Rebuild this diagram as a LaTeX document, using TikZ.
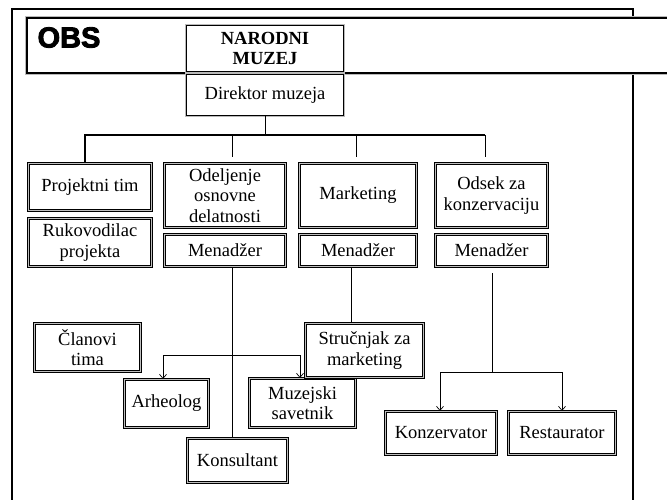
\documentclass[tikz,border=0pt]{standalone}
\usepackage{fontspec}
\setmainfont{Liberation Serif}
\newfontfamily\logofont[BoldFeatures={FakeBold=3}]{Liberation Sans}
\usetikzlibrary{arrows.meta,calc}

% box given by its corners: name, x1, y1, x2, y2, text
\newcommand{\orgunit}[7][orgbox]{%
  \node[#1, minimum width={(#5-#3-3)*1pt}, minimum height={(#6-#4-3)*1pt}]
    (#2) at ({(#3+#5)/2},{(#4+#6)/2}) {#7};}

\begin{document}
\begin{tikzpicture}[x=1pt,y=-1pt,
  every node/.style={font=\fontsize{18.5}{20.5}\selectfont},
  orgbox/.style={rectangle, draw=black, line width=1.2pt, double=gray!50,
    double distance=1.1pt, fill=white, align=center, inner sep=0pt},
  headbox/.style={rectangle, draw=black, line width=1.6pt,
    preaction={draw=gray!55, line width=3.4pt}, fill=white, align=center, inner sep=0pt},
  frameline/.style={draw=black, line width=1.2pt, preaction={draw=gray!55, line width=2.8pt}},
  bandline/.style={draw=black, line width=1.6pt, preaction={draw=gray!55, line width=3.4pt}},
  conn/.style={draw=black, line width=0.7pt},
  busline/.style={draw=black, line width=1.8pt},
  arr/.style={conn, -{Straight Barb[length=4pt,width=7pt]}},
]
\useasboundingbox (0,0) rectangle (667,500);
\clip (0,0) rectangle (667,500);

% outer frame and title band
\draw[frameline] (12,510) -- (12,9) -- (633,9) -- (633,510);
\draw[bandline, fill=white] (27,18) rectangle (700,73);
\node[font=\logofont\bfseries\fontsize{29}{29}\selectfont] (logo) at (69,37.5) {OBS};

% top of the hierarchy
\orgunit[headbox]{muzej}{185}{24}{345}{73}{\bfseries NARODNI\\\bfseries MUZEJ}
\orgunit[headbox]{direktor}{185}{73}{345}{117}{Direktor muzeja}

% departments
\orgunit{projekt}{27}{162}{153}{212}{Projektni tim}
\orgunit{rukovod}{27}{217}{153}{268}{Rukovodilac\\projekta}
\orgunit{odeljenje}{163}{162}{287}{229}{Odeljenje\\osnovne\\delatnosti}
\orgunit{menA}{163}{233}{287}{268}{Menadžer}
\orgunit{marketing}{298}{162}{418}{229}{Marketing}
\orgunit{menB}{298}{233}{418}{268}{Menadžer}
\orgunit{odsek}{434}{162}{549}{229}{Odsek za\\konzervaciju}
\orgunit{menC}{434}{233}{549}{268}{Menadžer}

% staff
\orgunit{clanovi}{33}{322}{142}{373}{Članovi\\tima}
\orgunit{arheolog}{123}{378}{210}{429}{Arheolog}
\orgunit{muzejski}{248}{377}{357}{429}{Muzejski\\savetnik}
\orgunit{strucnjak}{304}{322}{425}{379}{Stručnjak za\\marketing}
\orgunit{konsultant}{186}{437}{289}{484}{Konsultant}
\orgunit{konzervator}{384}{410}{498}{456}{Konzervator}
\orgunit{restaurator}{507}{410}{617}{456}{Restaurator}

% bus under the director
\coordinate (busL) at (85,135);
\coordinate (busR) at (485,135);
\coordinate (dropA) at (232,135);
\coordinate (dropB) at (356,135);
\draw[conn] (direktor.south) -- (direktor.south |- busL);
\draw[busline] (busL |- projekt.north) -- (busL) -- (busR);
\draw[conn, shorten >=6pt] (dropA) -- (dropA |- odeljenje.north);
\draw[conn, shorten >=6pt] (dropB) -- (dropB |- marketing.north);
\draw[conn, shorten >=6pt] (busR) -- (busR |- odsek.north);

% Odeljenje osnovne delatnosti
\coordinate (brA1) at (163,355);
\coordinate (brA2) at (300,355);
\draw[conn] (menA.south -| dropA) -- (konsultant.north -| dropA);
\draw[conn] (brA1) -- (brA2);
\draw[arr] (brA1) -- (brA1 |- arheolog.north);
\draw[arr] (brA2) -- (brA2 |- muzejski.north);

% Marketing
\coordinate (mk) at (351,268);
\draw[conn] (mk) -- (mk |- strucnjak.north);

% Odsek za konzervaciju
\coordinate (kz) at (492,273);
\coordinate (brC1) at (440,372);
\coordinate (brC2) at (562,372);
\draw[conn] (kz) -- (kz |- brC1);
\draw[conn] (brC1) -- (brC2);
\draw[arr] (brC1) -- (brC1 |- konzervator.north);
\draw[arr] (brC2) -- (brC2 |- restaurator.north);
\end{tikzpicture}
\end{document}
